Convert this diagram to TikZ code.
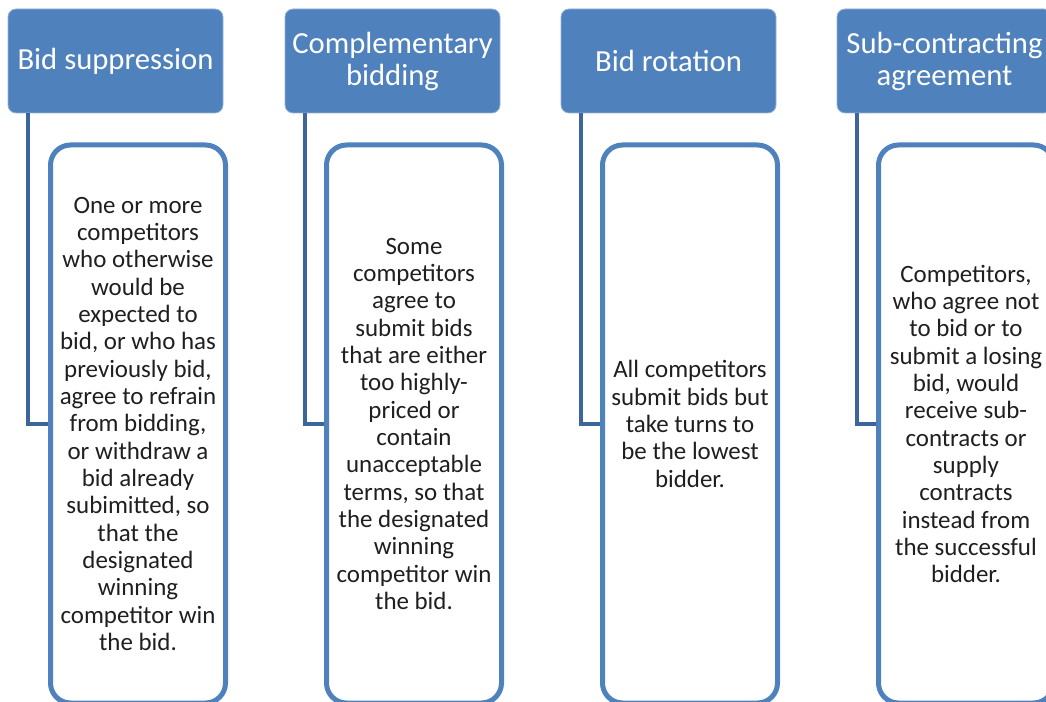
\documentclass[tikz,border=0pt]{standalone}
\usepackage{fontspec}
\setmainfont{Carlito}
\usetikzlibrary{positioning}

\definecolor{officeblue}{HTML}{4F81BD}
\definecolor{linkblue}{HTML}{3C6699}

\tikzset{
  head/.style={fill=officeblue, draw=officeblue!60!white, line width=0.6pt,
    rounded corners=6pt, minimum width=161.25pt, minimum height=78pt,
    text=white, align=center, font=\fontsize{23}{24}\selectfont},
  body/.style={draw=officeblue, fill=white, line width=3.75pt,
    rounded corners=15pt, minimum width=131.25pt, minimum height=418.5pt,
    text=black!88, align=center, font=\fontsize{18.7}{20.5}\selectfont},
  link/.style={draw=linkblue, line width=3pt}
}

\begin{document}
\begin{tikzpicture}[x=0.75pt,y=-0.75pt]
    \useasboundingbox (0,0) rectangle (1046,702);

    % column headers
    \node[head] (h1) at (115.5,61) {Bid suppression};
    \node[head] (h2) at (392.5,61) {Complementary\\bidding};
    \node[head] (h3) at (668.5,61) {Bid rotation};
    \node[head] (h4) at (944.5,61) {Sub-contracting\\agreement};

    % descriptions
    \node[body] (b1) at (138,424) {One or more\\competitors\\who otherwise\\would be\\expected to\\bid, or who has\\previously bid,\\agree to refrain\\from bidding,\\or withdraw a\\bid already\\subimitted, so\\that the\\designated\\winning\\competitor win\\the bid.};
    \node[body] (b2) at (414,424) {Some\\competitors\\agree to\\submit bids\\that are either\\too highly-\\priced or\\contain\\unacceptable\\terms, so that\\the designated\\winning\\competitor win\\the bid.};
    \node[body] (b3) at (690,424) {All competitors\\submit bids but\\take turns to\\be the lowest\\bidder.};
    \node[body] (b4) at (966,424) {Competitors,\\who agree not\\to bid or to\\submit a losing\\bid, would\\receive sub-\\contracts or\\supply\\contracts\\instead from\\the successful\\bidder.};

    % elbows from header to box
    \draw[link] ([xshift=15pt]h1.south west) |- (b1.west);
    \draw[link] ([xshift=15pt]h2.south west) |- (b2.west);
    \draw[link] ([xshift=15pt]h3.south west) |- (b3.west);
    \draw[link] ([xshift=15pt]h4.south west) |- (b4.west);
\end{tikzpicture}
\end{document}
